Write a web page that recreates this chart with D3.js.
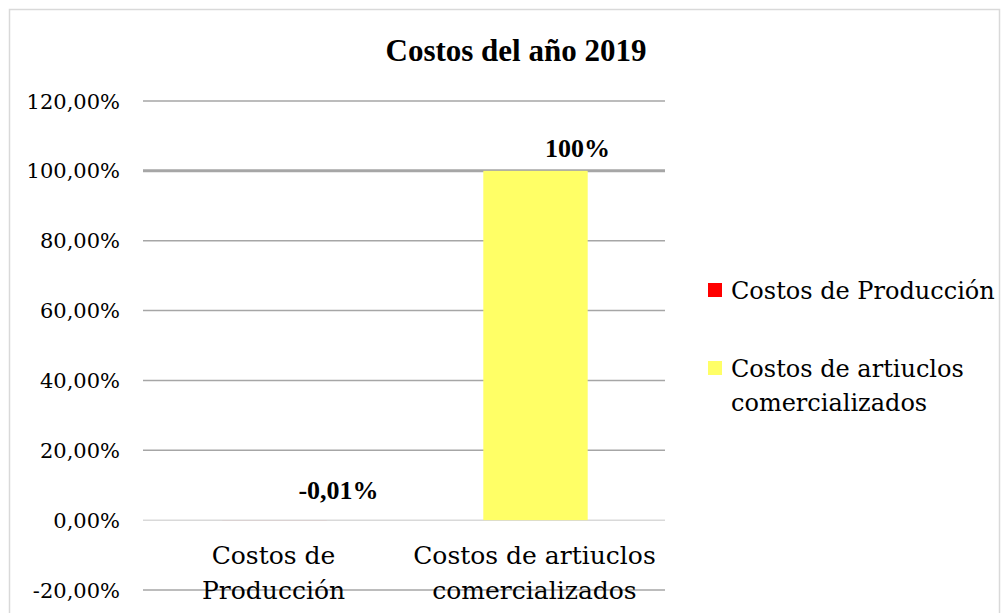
<!DOCTYPE html>
<html>
<head>
<meta charset="utf-8">
<script src="https://cdn.jsdelivr.net/npm/d3@7"></script>
<style>
  body { margin: 0; background: #fff; }
  svg { font-family: "DejaVu Serif", serif; }
  .times { font-family: "Liberation Serif", serif; }
</style>
</head>
<body>
<svg width="1008" height="613"></svg>
<script>
// data
var categories = ["Costos de Producción", "Costos de artiuclos comercializados"];
var values = [-0.0001, 1.0];
var valueLabels = ["-0,01%", "100%"];
var colors = ["#ff0000", "#ffff66"];
var xLabelLines = [["Costos de", "Producción"], ["Costos de artiuclos", "comercializados"]];
var legendLines = [["Costos de Producción"], ["Costos de artiuclos", "comercializados"]];
var yTicks = [-0.2, 0, 0.2, 0.4, 0.6, 0.8, 1.0, 1.2];

var svg = d3.select("svg");

// outer frame
svg.append("rect")
  .attr("x", 9.5).attr("y", 9.5)
  .attr("width", 990).attr("height", 610)
  .attr("fill", "none")
  .attr("stroke", "#d9d9d9")
  .attr("stroke-width", 1.5);

var plot = { left: 143, right: 665, top: 101, bottom: 590 };

var x = d3.scaleBand()
  .domain(categories)
  .range([plot.left, plot.right])
  .paddingInner(0)
  .paddingOuter(0);

var y = d3.scaleLinear()
  .domain([-0.2, 1.2])
  .range([plot.bottom, plot.top]);

var fmt = function (d) {
  return (d < 0 ? "-" : "") + d3.format(".2f")(Math.abs(d) * 100).replace(".", ",") + "%";
};

// gridlines
svg.append("g")
  .selectAll("line")
  .data(yTicks)
  .enter()
  .append("line")
  .attr("x1", plot.left)
  .attr("x2", plot.right)
  .attr("y1", function (d) { return y(d); })
  .attr("y2", function (d) { return y(d); })
  .attr("stroke", function (d) { return d === 0 ? "#d9d9d9" : "#a6a6a6"; })
  .attr("stroke-width", function (d) { return d === 1 ? 3 : 1.5; });

// y tick labels
svg.append("g")
  .selectAll("text")
  .data(yTicks)
  .enter()
  .append("text")
  .attr("x", 120)
  .attr("y", function (d) { return y(d); })
  .attr("dy", "0.36em")
  .attr("text-anchor", "end")
  .attr("font-size", "21px")
  .attr("fill", "#000")
  .text(fmt);

// bars
var barW = x.bandwidth() * 0.4;
svg.append("g")
  .selectAll("rect")
  .data(values)
  .enter()
  .append("rect")
  .attr("x", function (d, i) { return x(categories[i]) + x.bandwidth() / 2 - barW / 2 + 1; })
  .attr("y", function (d) { return y(Math.max(0, d)); })
  .attr("width", barW)
  .attr("height", function (d) { return Math.abs(y(d) - y(0)); })
  .attr("fill", function (d, i) { return colors[i]; });

// value labels (Excel places them a bit to the right)
var labelDx = [65, 43];
svg.append("g")
  .selectAll("text")
  .data(values)
  .enter()
  .append("text")
  .attr("class", "times")
  .attr("x", function (d, i) { return x(categories[i]) + x.bandwidth() / 2 + labelDx[i]; })
  .attr("y", function (d) { return y(Math.max(0, d)) - (d > 0 ? 14 : 21); })
  .attr("text-anchor", "middle")
  .attr("font-size", "26px")
  .attr("font-weight", "bold")
  .text(function (d, i) { return valueLabels[i]; });

// category labels
xLabelLines.forEach(function (lines, i) {
  var t = svg.append("text")
    .attr("text-anchor", "middle")
    .attr("font-size", "25px")
    .attr("x", x(categories[i]) + x.bandwidth() / 2)
    .attr("y", 564);
  lines.forEach(function (l, j) {
    t.append("tspan")
      .attr("x", x(categories[i]) + x.bandwidth() / 2)
      .attr("dy", j === 0 ? 0 : 35)
      .text(l);
  });
});

// title
svg.append("text")
  .attr("class", "times")
  .attr("x", 516)
  .attr("y", 61)
  .attr("text-anchor", "middle")
  .attr("font-size", "31px")
  .attr("font-weight", "bold")
  .text("Costos del año 2019");

// legend
var legendY = [290, 368];
legendLines.forEach(function (lines, i) {
  var g = svg.append("g");
  g.append("rect")
    .attr("x", 708)
    .attr("y", legendY[i] - 7)
    .attr("width", 14)
    .attr("height", 14)
    .attr("fill", colors[i]);
  var t = g.append("text")
    .attr("font-size", "24px")
    .attr("x", 731)
    .attr("y", legendY[i] + 9);
  lines.forEach(function (l, j) {
    t.append("tspan")
      .attr("x", 731)
      .attr("dy", j === 0 ? 0 : 34)
      .text(l);
  });
});
</script>
</body>
</html>
